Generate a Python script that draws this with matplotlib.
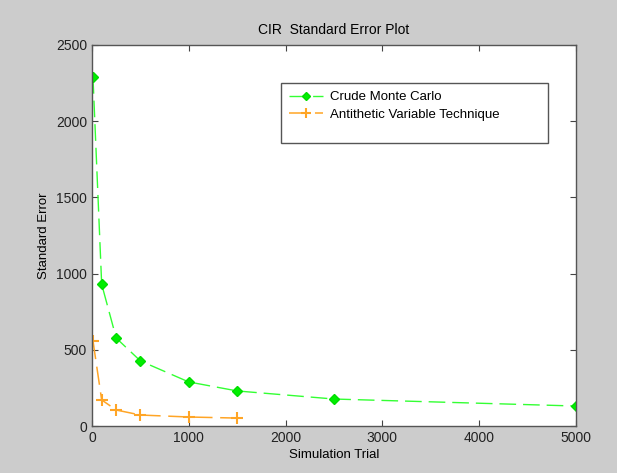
import matplotlib
matplotlib.use("Agg")
import matplotlib.pyplot as plt
from matplotlib.patches import Rectangle

trials_crude = [10, 100, 250, 500, 1000, 1500, 2500, 5000]
se_crude = [2290, 930, 577, 427, 289, 230, 177, 131]
trials_anti = [10, 100, 250, 500, 1000, 1500]
se_anti = [558, 171, 105, 72, 59, 52]

plt.rcParams["font.family"] = ["Liberation Sans", "DejaVu Sans"]
plt.rcParams["font.size"] = 9.5

W, H = 617, 473
fig = plt.figure(figsize=(W / 100, H / 100), dpi=100, facecolor="#cccccc")
ax = fig.add_axes([92 / W, 1 - 426 / H, (576 - 92) / W, (426 - 45) / H])
ax.set_facecolor("white")

dash = (0, (12, 5))
ax.plot(trials_crude, se_crude, color="#33ff33", linestyle=dash, linewidth=1,
        marker="D", markersize=5, markerfacecolor="#00ee00", markeredgecolor="#00dd00",
        label="Crude Monte Carlo")
ax.plot(trials_anti, se_anti, color="#ffa526", linestyle=dash, linewidth=1.1,
        marker="+", markersize=8, markeredgewidth=1.5, label="Antithetic Variable Technique")

ax.set_xlim(0, 5000)
ax.set_ylim(0, 2500)
ax.set_xticks([0, 1000, 2000, 3000, 4000, 5000])
ax.set_yticks([0, 500, 1000, 1500, 2000, 2500])
ax.tick_params(direction="in", top=True, right=True, colors="#444444", labelcolor="#222222",
               length=4, labelsize=10)
for s in ax.spines.values():
    s.set_color("#555555")
    s.set_linewidth(1)

ax.set_title("CIR  Standard Error Plot", fontsize=10, pad=8)
ax.set_xlabel("Simulation Trial", labelpad=3)
ax.set_ylabel("Standard Error", labelpad=4)

# legend box frame
bx0, bx1, by0, by1 = 281, 548, 83, 143
ax.add_patch(Rectangle(((bx0 - 92) / 484, 1 - (by1 - 45) / 381), (bx1 - bx0) / 484,
                       (by1 - by0) / 381, transform=ax.transAxes, facecolor="white",
                       edgecolor="#555555", linewidth=1, zorder=4))
leg = ax.legend(loc="upper left", bbox_to_anchor=((bx0 - 92) / 484, 1 - (by0 - 45) / 381),
                frameon=False, borderpad=0.1, handlelength=2.6, handletextpad=0.5,
                labelspacing=0.4, markerscale=0.9)
leg.set_zorder(5)

fig.savefig("out.png", dpi=100, facecolor=fig.get_facecolor())
